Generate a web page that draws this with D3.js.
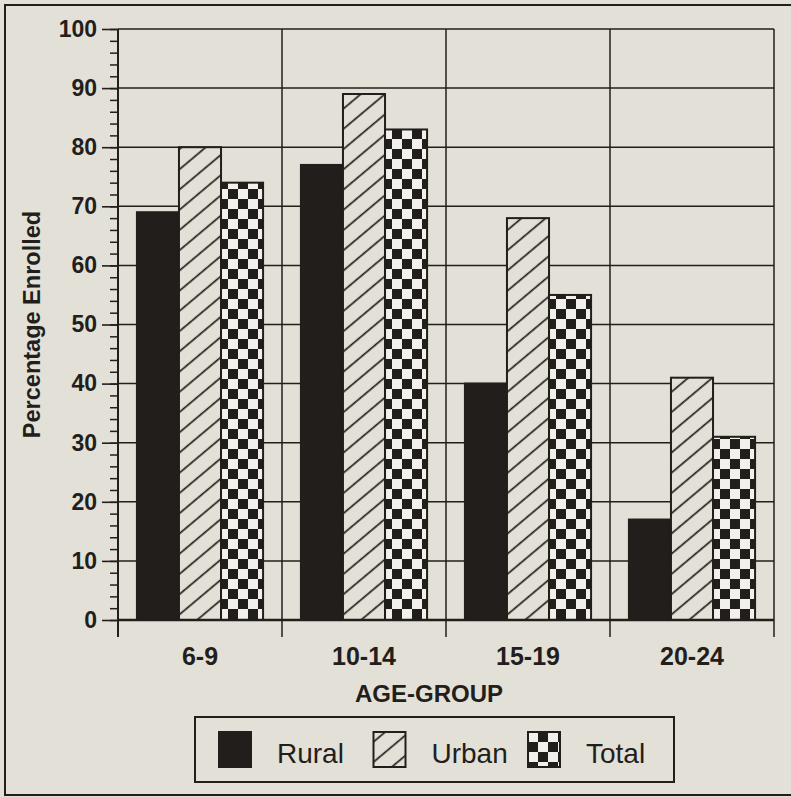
<!DOCTYPE html>
<html>
<head>
<meta charset="utf-8">
<script src="https://cdn.jsdelivr.net/npm/d3@7"></script>
<style>
  html, body { margin: 0; padding: 0; background: #e3e0d8; }
  svg { display: block; }
</style>
</head>
<body>
<div id="chart"></div>
<script>
// data
const ageGroups = ["6-9", "10-14", "15-19", "20-24"];
const seriesNames = ["Rural", "Urban", "Total"];
const rural = [69, 77, 40, 17];
const urban = [80, 89, 68, 41];
const total = [74, 83, 55, 31];
const yTicks = [0, 10, 20, 30, 40, 50, 60, 70, 80, 90, 100];

const bg = "#e3e0d8";
const ink = "#221e1b";
const font = "'Liberation Sans', Arial, Helvetica, sans-serif";

const W = 791, H = 797;
const margin = {top: 29, right: 17, bottom: 177, left: 118};
const width = W - margin.left - margin.right;
const height = H - margin.top - margin.bottom;

const svg = d3.select("#chart").append("svg")
  .attr("width", W)
  .attr("height", H);

// patterns
const defs = svg.append("defs");
const hatch = defs.append("pattern")
  .attr("id", "hatch")
  .attr("patternUnits", "userSpaceOnUse")
  .attr("width", 15.5).attr("height", 15.5)
  .attr("patternTransform", "rotate(-40)");
hatch.append("rect").attr("width", 15.5).attr("height", 15.5).attr("fill", bg);
hatch.append("line")
  .attr("x1", 0).attr("x2", 15.5).attr("y1", 7.5).attr("y2", 7.5)
  .attr("stroke", ink).attr("stroke-width", 1.7);

const checker = defs.append("pattern")
  .attr("id", "checker")
  .attr("patternUnits", "userSpaceOnUse")
  .attr("width", 20).attr("height", 20);
checker.append("rect").attr("width", 20).attr("height", 20).attr("fill", "#f2f0ea");
checker.append("rect").attr("x", 10).attr("y", 0).attr("width", 10).attr("height", 10).attr("fill", ink);
checker.append("rect").attr("x", 0).attr("y", 10).attr("width", 10).attr("height", 10).attr("fill", ink);

const fills = {Rural: ink, Urban: "url(#hatch)", Total: "url(#checker)"};

// outer frame
svg.append("rect")
  .attr("x", 5).attr("y", 5)
  .attr("width", W + 20).attr("height", H - 7)
  .attr("fill", "none").attr("stroke", ink).attr("stroke-width", 2);

const g = svg.append("g")
  .attr("transform", "translate(" + margin.left + "," + margin.top + ")");

const x = d3.scaleBand().domain(ageGroups).range([0, width]).padding(0);
const xs = d3.scaleBand().domain(seriesNames).range([0, x.bandwidth()])
  .paddingInner(0).paddingOuter(0.45);
const y = d3.scaleLinear().domain([0, 100]).range([height, 0]);

// grid
g.append("g").selectAll("line").data(yTicks.filter(d => d > 0)).join("line")
  .attr("x1", 0).attr("x2", width)
  .attr("y1", d => y(d)).attr("y2", d => y(d))
  .attr("stroke", ink).attr("stroke-width", 1.5);

const bounds = ageGroups.map(d => x(d) + x.bandwidth());
g.append("g").selectAll("line").data(bounds).join("line")
  .attr("x1", d => d).attr("x2", d => d)
  .attr("y1", 0).attr("y2", height + 17)
  .attr("stroke", ink).attr("stroke-width", 1.5);

// bars
const rows = ageGroups.map((a, i) => ({
  group: a,
  values: [
    {key: "Rural", value: rural[i]},
    {key: "Urban", value: urban[i]},
    {key: "Total", value: total[i]}
  ]
}));

g.append("g").selectAll("g").data(rows).join("g")
  .attr("transform", d => "translate(" + x(d.group) + ",0)")
  .selectAll("rect").data(d => d.values).join("rect")
  .attr("x", d => xs(d.key))
  .attr("y", d => y(d.value))
  .attr("width", xs.bandwidth())
  .attr("height", d => y(0) - y(d.value))
  .attr("fill", d => fills[d.key])
  .attr("stroke", ink).attr("stroke-width", 2);

// y axis: minor ticks, then major ticks with labels
g.append("g")
  .call(d3.axisLeft(y).tickValues(d3.range(0, 101, 2)).tickSize(8).tickFormat(""))
  .call(a => a.select(".domain").remove())
  .selectAll("line").attr("stroke", ink).attr("stroke-width", 1.5);

const yAxis = g.append("g")
  .call(d3.axisLeft(y).tickValues(yTicks).tickSize(16).tickPadding(5));
yAxis.select(".domain").attr("stroke", ink).attr("stroke-width", 2)
  .attr("d", "M0," + (height + 17) + "V0");
yAxis.selectAll(".tick line").attr("stroke", ink).attr("stroke-width", 1.6);
yAxis.selectAll("text")
  .attr("fill", ink).attr("font-family", font)
  .attr("font-size", 23).attr("font-weight", "bold");

// x axis
const xAxis = g.append("g")
  .attr("transform", "translate(0," + height + ")")
  .call(d3.axisBottom(x).tickSize(0).tickPadding(27));
xAxis.select(".domain").attr("stroke", ink).attr("stroke-width", 2.5)
  .attr("d", "M0,0H" + width);
xAxis.selectAll("text")
  .attr("fill", ink).attr("font-family", font)
  .attr("font-size", 25).attr("font-weight", "bold");

// axis titles
g.append("text")
  .attr("transform", "translate(" + (-78) + "," + (height / 2) + ") rotate(-90)")
  .attr("text-anchor", "middle")
  .attr("fill", ink).attr("font-family", font)
  .attr("font-size", 23.5).attr("font-weight", "bold")
  .text("Percentage Enrolled");

g.append("text")
  .attr("x", 311).attr("y", height + 82)
  .attr("text-anchor", "middle")
  .attr("fill", ink).attr("font-family", font)
  .attr("font-size", 24).attr("font-weight", "bold")
  .text("AGE-GROUP");

// legend
const legend = svg.append("g").attr("transform", "translate(195,717)");
legend.append("rect")
  .attr("width", 479).attr("height", 65)
  .attr("fill", "none").attr("stroke", ink).attr("stroke-width", 2);

const legendX = d3.scalePoint().domain(seriesNames).range([24, 333]);
const item = legend.selectAll("g.item").data(seriesNames).join("g")
  .attr("class", "item")
  .attr("transform", d => "translate(" + legendX(d) + ",15)");
item.append("rect")
  .attr("width", 32).attr("height", 35)
  .attr("fill", d => fills[d])
  .attr("stroke", ink).attr("stroke-width", 2);
item.append("text")
  .attr("x", 58).attr("y", 31)
  .attr("fill", ink).attr("font-family", font)
  .attr("font-size", 28)
  .text(d => d);
</script>
</body>
</html>
